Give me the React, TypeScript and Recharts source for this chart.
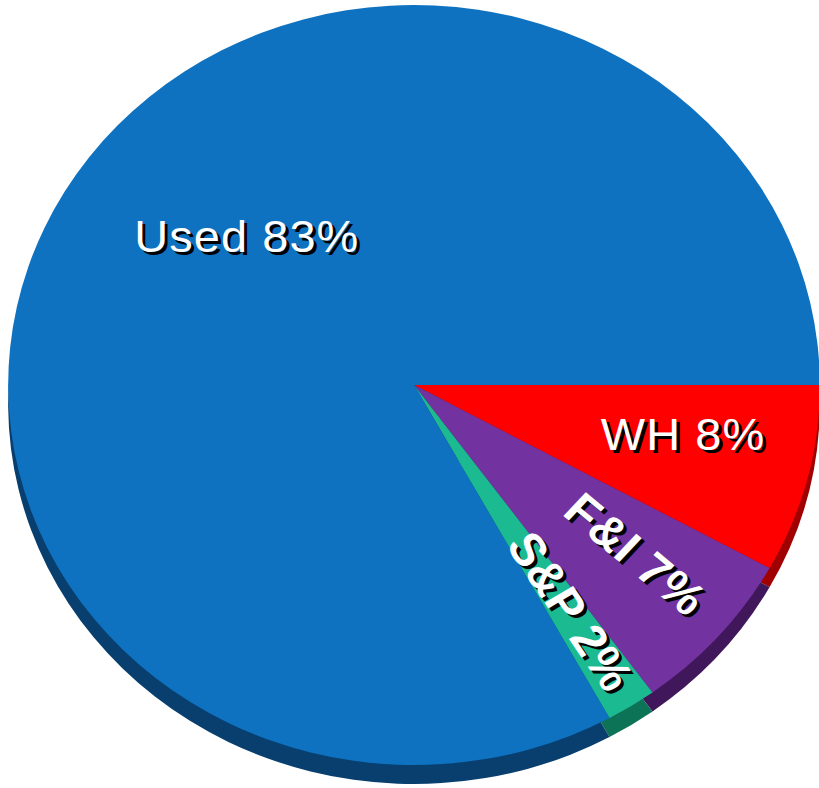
import React from "react";
import { PieChart, Pie, Cell } from "recharts";

const segments = ["WH", "F&I", "S&P", "Used"];
const shares = [8, 7, 2, 83];
const topColors = ["#fe0000", "#7232a0", "#1bba90", "#0e72c0"];
const rimColors = ["#a00000", "#40175a", "#0d7356", "#083f6e"];

const data = segments.map((name, i) => ({ name, value: shares[i] }));

// label placement: radius fraction, angle tweak, radial rotation, weight
const labelStyle: Record<string, any> = {
  WH: { r: 0.676, shift: 3.2, rotate: false, bold: false },
  "F&I": { r: 0.705, shift: 2.2, rotate: true, bold: true },
  "S&P": { r: 0.71, shift: 0.5, rotate: true, bold: true },
  Used: { r: 0.567, shift: -12.8, rotate: false, bold: false },
};

const RAD = Math.PI / 180;

function renderLabel(props: any) {
  const { cx, cy, midAngle, outerRadius, name, value } = props;
  const s = labelStyle[name];
  const a = midAngle + s.shift;
  const x = cx + outerRadius * s.r * Math.cos(-a * RAD);
  const y = cy + outerRadius * s.r * Math.sin(-a * RAD);
  const rot = s.rotate ? -midAngle : 0;
  const text = `${name} ${value}%`;
  const common = {
    textAnchor: "middle" as const,
    dominantBaseline: "central" as const,
    fontFamily: "Liberation Sans, Arial, sans-serif",
    fontSize: s.bold ? 46 : 44,
    fontWeight: s.bold ? 700 : 400,
    letterSpacing: s.bold ? 0.8 : 1,
  };
  return (
    <g key={name}>
      <text {...common} x={x + 3} y={y + 3} fill="#000" transform={`rotate(${rot} ${x + 3} ${y + 3})`}>
        {text}
      </text>
      <text {...common} x={x} y={y} fill="#fff" transform={`rotate(${rot} ${x} ${y})`}>
        {text}
      </text>
    </g>
  );
}

export default function App() {
  return (
    <div style={{ position: "absolute", left: 0, top: 0, width: 819, height: 788, background: "#fff", overflow: "hidden" }}>
      <div style={{ transform: "scaleX(1.068)", transformOrigin: "414px 0px" }}>
        <PieChart width={819} height={788} margin={{ top: 0, right: 0, bottom: 0, left: 0 }}>
          <Pie
            data={data}
            dataKey="value"
            cx={414}
            cy={404}
            outerRadius={380}
            startAngle={0}
            endAngle={-360}
            stroke="none"
            isAnimationActive={false}
          >
            {data.map((d, i) => (
              <Cell key={d.name} fill={rimColors[i]} />
            ))}
          </Pie>
          <Pie
            data={data}
            dataKey="value"
            cx={414}
            cy={385}
            outerRadius={380}
            startAngle={0}
            endAngle={-360}
            stroke="none"
            label={renderLabel}
            labelLine={false}
            isAnimationActive={false}
          >
            {data.map((d, i) => (
              <Cell key={d.name} fill={topColors[i]} />
            ))}
          </Pie>
        </PieChart>
      </div>
    </div>
  );
}
